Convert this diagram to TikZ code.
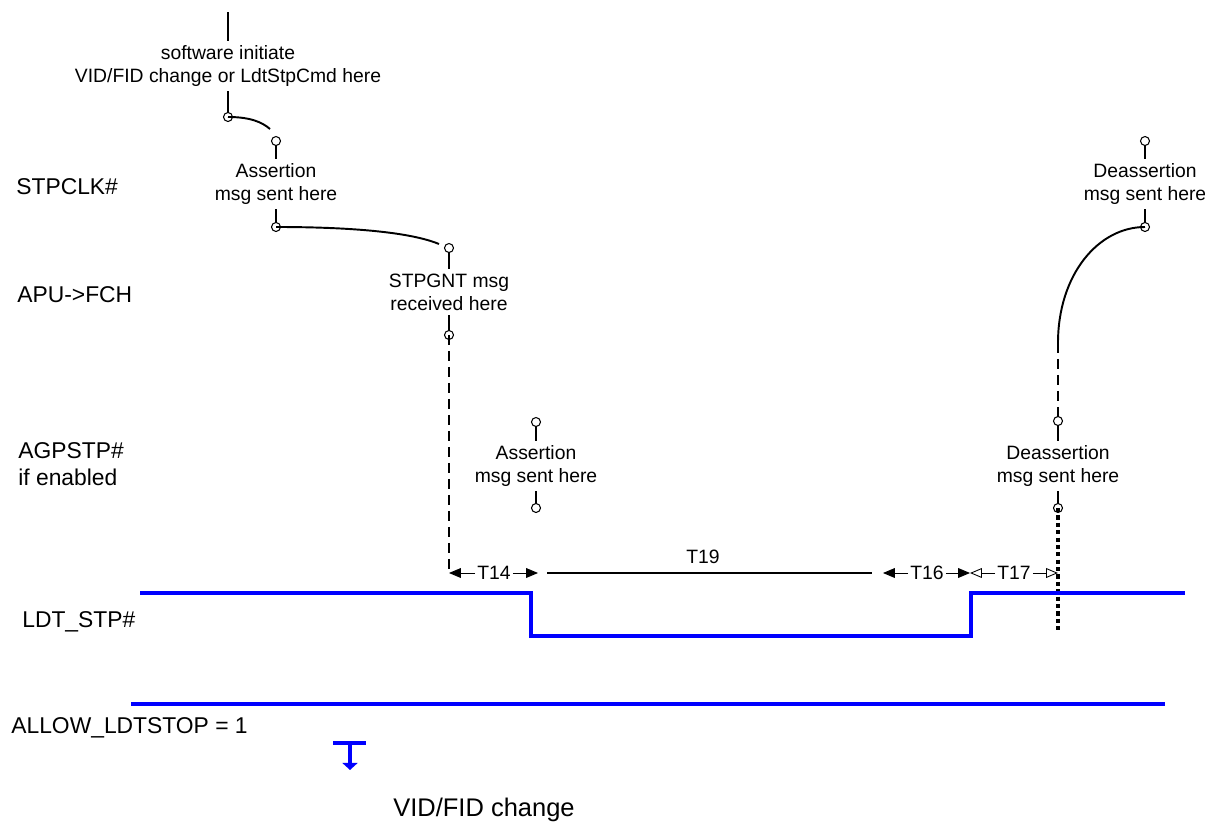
\documentclass[tikz,border=0pt]{standalone}
\usepackage{fontspec}
\setmainfont{Liberation Sans}
\usetikzlibrary{arrows.meta, shapes, positioning}

\tikzset{
  ring/.style={draw, circle, inner sep=0, minimum size=0.18cm, line width=0.6},
  msgtext/.style={align=center, font=\fontsize{11}{13}\selectfont, inner sep=2.5pt},
  signame/.style={font=\fontsize{13}{15.5}\selectfont, inner sep=0, align=left},
  dimlabel/.style={font=\fontsize{11}{13}\selectfont, inner sep=1pt},
  stub/.style={line width=0.6},
  arcline/.style={line width=1.1},
  wave/.style={blue, line width=1.8},
  dashline/.style={line width=1, dash pattern=on 5.7pt off 3.4pt},
  dotline/.style={line width=1.8, dash pattern=on 2.4pt off 1.8pt},
  solidtip/.style={-{Triangle[length=6.8pt, width=5.6pt]}, line width=0.5},
  opentip/.style={-{Triangle[open, length=6.8pt, width=5.6pt]}, line width=0.5}
}

\begin{document}
\begin{tikzpicture}[x=0.02cm, y=-0.02cm]
      \useasboundingbox (0,0) rectangle (1205,825);

      % signal names %
      \node[signame, anchor=base west] (stpclk) at (16,194) {STPCLK\#};
      \node[signame, anchor=base west] (apufch) at (17,302) {APU->FCH};
      \node[signame, anchor=north west] (agpstp) at (18,442) {AGPSTP\#\\if enabled};
      \node[signame, anchor=base west] (ldtstp) at (22,627) {LDT\_STP\#};
      \node[signame, anchor=base west] (allow) at (11,733) {ALLOW\_LDTSTOP = 1};
      \node[font=\fontsize{14.5}{17}\selectfont, anchor=base, inner sep=0] (title) at (484,816) {VID/FID change};

      % nodes %
      \coordinate (swtop) at (228,12);
      \node[msgtext] (sw) at (228,66) {software initiate\\VID/FID change or LdtStpCmd here};
      \node[ring, below of = sw, node distance=1.02cm] (swbot) {};

      \node[msgtext] (asrtA) at (276,184) {Assertion\\msg sent here};
      \node[ring, above of = asrtA, node distance=0.86cm] (asrtAtop) {};
      \node[ring, below of = asrtA, node distance=0.86cm] (asrtAbot) {};

      \node[msgtext] (gnt) at (449,292) {STPGNT msg\\received here};
      \node[ring, above of = gnt, node distance=0.88cm] (gnttop) {};
      \node[ring, below of = gnt, node distance=0.86cm] (gntbot) {};

      \node[msgtext] (asrtB) at (536,466) {Assertion\\msg sent here};
      \node[ring, above of = asrtB, node distance=0.88cm] (asrtBtop) {};
      \node[ring, below of = asrtB, node distance=0.84cm] (asrtBbot) {};

      \node[msgtext] (deasA) at (1145,184) {Deassertion\\msg sent here};
      \node[ring, above of = deasA, node distance=0.86cm] (deasAtop) {};
      \node[ring, below of = deasA, node distance=0.86cm] (deasAbot) {};

      \node[msgtext] (deasB) at (1058,466) {Deassertion\\msg sent here};
      \node[ring, above of = deasB, node distance=0.9cm] (deasBtop) {};
      \node[ring, below of = deasB, node distance=0.84cm] (deasBbot) {};

      \coordinate (asrtAend) at (270,129);
      \coordinate (gntend) at (439,244);
      \coordinate (deasbend) at (1058,343);
      \coordinate (dotend) at (1058,633);

      % edges %
      \draw[stub] (swtop) -- (sw);
      \draw[stub] (sw) -- (swbot);
      \foreach \m in {asrtA, gnt, asrtB, deasA, deasB} {
        \draw[stub] (\m top) -- (\m);
        \draw[stub] (\m) -- (\m bot);
      }
      \draw[arcline] (swbot.center) .. controls (250,117) and (262,122) .. (asrtAend);
      \draw[arcline] (asrtAbot.center) .. controls (350,227) and (410,232) .. (gntend);
      \draw[arcline] (deasAbot.center) .. controls (1098,227) and (1058,275) .. (deasbend);
      \draw[dashline] (deasbend) -- (deasBtop.center);
      \draw[dotline] (deasBbot.center) -- (dotend);

      % timing marks %
      \coordinate (t14l) at (449,573);
      \coordinate (t14r) at (538,573);
      \coordinate (t19l) at (547,573);
      \coordinate (t19r) at (872,573);
      \coordinate (t16l) at (883,573);
      \coordinate (t16r) at (970,573);
      \coordinate (t17r) at (1058,573);
      \node[dimlabel] (t14) at (494,573) {T14};
      \node[dimlabel] (t19) at (703,557) {T19};
      \node[dimlabel] (t16) at (927,573) {T16};
      \node[dimlabel] (t17) at (1014,573) {T17};
      \draw[dashline] (gntbot.center) -- (t14l);
      \draw[solidtip] (t14) -- (t14l);
      \draw[solidtip] (t14) -- (t14r);
      \draw[line width=1] (t19l) -- (t19r);
      \draw[solidtip] (t16) -- (t16l);
      \draw[solidtip] (t16) -- (t16r);
      \draw[opentip] (t17) -- (t16r);
      \draw[opentip] (t17) -- (t17r);

      % waveforms %
      \draw[wave] (140,593) -- (531,593) -- (531,636) -- (971,636) -- (971,593) -- (1185,593);
      \draw[wave, line width=2.3] (765,636) -- (828,636);
      \draw[wave] (131,704) -- (1165,704);
      \draw[wave] (333,743) -- (366,743);
      \draw[wave, -{Triangle[length=4pt, width=8.5pt]}] (350,743) -- (350,770);
\end{tikzpicture}
\end{document}
